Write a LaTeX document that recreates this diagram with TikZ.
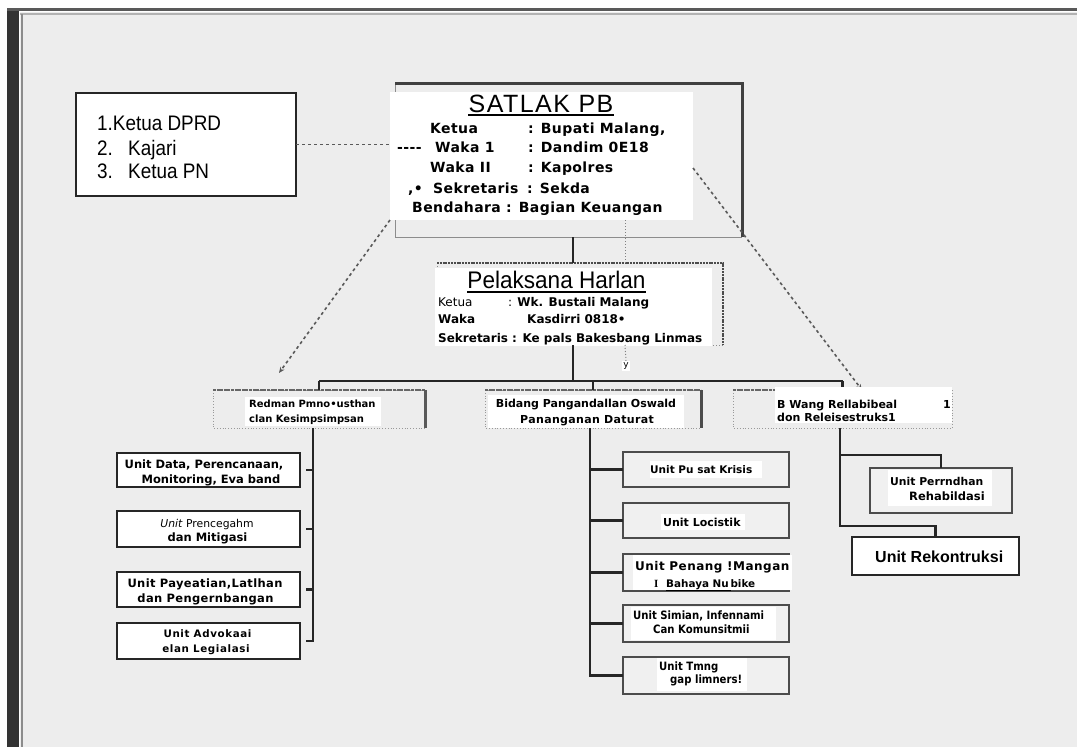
\documentclass[tikz,border=0pt]{standalone}
\usepackage{fontspec}
\setmainfont{DejaVu Sans}
\newfontfamily\fdv{DejaVu Sans}
\newfontfamily\fdvc[FakeStretch=0.88]{DejaVu Sans}
\newfontfamily\flan[FakeStretch=0.9]{Liberation Sans}
\newfontfamily\flap[FakeStretch=0.94]{Liberation Sans}
\newfontfamily\fla{Liberation Sans}
\newfontfamily\flser{Liberation Serif}
\usetikzlibrary{arrows.meta}
\newcommand\fsz[1]{\fontsize{#1}{#1}\selectfont}
\tikzset{
  txt/.style={inner sep=0pt, anchor=base west},
  txc/.style={inner sep=0pt, anchor=base},
  conn/.style={draw=black!85, line width=2.2},
  frame/.style={inner sep=0pt, outer sep=0pt},
  unitL/.style={draw=black!85, fill=white, line width=1.3, inner sep=0pt, outer sep=0pt},
  unitC/.style={draw=black!70, fill=black!6, line width=1.6, inner sep=0pt, outer sep=0pt},
  mem/.style={txt, font=\fdv\bfseries\fsz{14}\addfontfeature{LetterSpace=3}},
  ubold/.style={txc, font=\fdv\bfseries\fsz{11.5}},
  cbold/.style={txt, font=\fdvc\bfseries\fsz{11.5}},
  dsh/.style={draw=black!65, line width=1.6, dash pattern=on 3pt off 3pt},
}
\begin{document}
\begin{tikzpicture}[x=1pt,y=-1pt]
\useasboundingbox (0,0) rectangle (1077,747);
% page
\fill[white] (0,0) rectangle (1077,747);
\fill[black!7] (20,12) rectangle (1077,747);
\fill[black!80] (7,8) rectangle (19,747);
\draw[black!65, line width=3] (7,9.5) -- (1077,9.5);
\draw[black!30, line width=1.5] (20,14) -- (1077,14);
\draw[black!45, line width=1.2] (22,14) -- (22,747);

% ---------- left box
\node[unitL, line width=1.4, minimum width=220, minimum height=103] (lbox) at (186,144.5) {};
\node[txt, font=\flan\fsz{21}] (l1) at (97,130) {1.Ketua DPRD};
\node[txt, font=\flan\fsz{21}] (l2) at (97,155) {\makebox[31pt][l]{2.}Kajari};
\node[txt, font=\flan\fsz{21}] (l3) at (97,178) {\makebox[31pt][l]{3.}Ketua PN};

% ---------- SATLAK
\node[frame, minimum width=347, minimum height=154] (satf) at (568.5,160) {};
\draw[black!45, line width=1] (satf.north west) -- (satf.south west) -- (satf.south east);
\draw[black!75, line width=3] (satf.north west) -- (satf.north east) -- (satf.south east);
\node[frame, fill=white, minimum width=303, minimum height=128] (satw) at (541.5,156) {};
\node[txc, font=\fla\fsz{25}\addfontfeature{LetterSpace=6}] (satt) at (541,112) {SATLAK PB};
\draw[line width=1.2] ([yshift=-3pt]satt.base west) -- ([yshift=-3pt]satt.base east);
\node[mem] (s1a) at (430,133) {Ketua};
\node[mem] (s1b) at (528,133) {: Bupati Malang,};
\node[mem] (s2x) at (397,152) {----};
\node[mem] (s2a) at (435,152) {Waka 1};
\node[mem] (s2b) at (528,152) {: Dandim 0E18};
\node[mem] (s3a) at (430,172) {Waka II};
\node[mem] (s3b) at (528,172) {: Kapolres};
\node[mem] (s4x) at (408,193) {,•};
\node[mem] (s4a) at (433,193) {Sekretaris};
\node[mem] (s4b) at (527,193) {: Sekda};
\node[mem] (s5) at (412,212) {Bendahara : Bagian Keuangan};

% ---------- Pelaksana
\node[frame, minimum width=286, minimum height=82] (pelf) at (580,304) {};
\draw[black!45, line width=0.8, dotted] (pelf.north west) -- (pelf.south west) -- (pelf.south east);
\draw[black!70, line width=2.5, dash pattern=on 2pt off 0.8pt] (pelf.north west) -- (pelf.north east) -- (pelf.south east);
\node[frame, fill=white, minimum width=277, minimum height=78] (pelw) at (573.5,307) {};
\node[txc, font=\flap\fsz{24}] (pelt) at (556.5,288) {Pelaksana Harlan};
\draw[line width=1.2] ([yshift=-4pt]pelt.base west) -- ([yshift=-4pt]pelt.base east);
\node[txt, font=\fdv\fsz{12}] (p1a) at (438,306) {Ketua};
\node[txt, font=\fdv\fsz{12}] (p1b) at (508,306) {: \textbf{Wk. Bustali Malang}};
\node[txt, font=\fdv\bfseries\fsz{12}] (p2a) at (438,323) {Waka};
\node[txt, font=\fdv\bfseries\fsz{12}] (p2b) at (527,323) {Kasdirri 0818•};
\node[txt, font=\fdv\bfseries\fsz{12}] (p3) at (438,342) {Sekretaris : Ke pals Bakesbang Linmas};

% ---------- Bidang frames
\node[frame, minimum width=212, minimum height=38] (redf) at (319,409) {};
\node[frame, minimum width=216, minimum height=38] (bidf) at (593,409) {};
\node[frame, minimum width=219, minimum height=38] (bwf) at (842.5,409) {};
\foreach \f in {redf,bidf,bwf}{
  \draw[black!40, line width=0.8, dotted] (\f.north west) rectangle (\f.south east);
  \draw[black!60, line width=2.2, dash pattern=on 3pt off 0.6pt] (\f.north west) -- (\f.north east);
}
\draw[black!65, line width=3] (redf.north east) -- (redf.south east);
\draw[black!70, line width=3] (bidf.north east) -- (bidf.south east);

% ---------- connectors top
\coordinate (cx) at (573,0);
\coordinate (bary) at (0,381);
\coordinate (dvx) at (625,0);
\draw[conn] (satf.south -| cx) -- (pelf.north -| cx);
\draw[conn] (pelf.south -| cx) -- (bary -| cx);
\draw[conn] (redf.north |- bary) -- (bwf.north |- bary);
\draw[conn] (redf.north |- bary) -- (redf.north);
\draw[conn] (bidf.north |- bary) -- (bidf.north);
\draw[conn] (bwf.north |- bary) -- (bwf.north);
\draw[black!50, line width=1, dotted] (satw.south -| dvx) -- (pelf.north -| dvx);
\node[fill=white, inner sep=1.5pt, font=\fdv\fsz{9}] (yl) at (626,366) {y};
\draw[black!50, line width=1, dotted] (pelf.south -| dvx) -- (yl.north);

% dashed links
\coordinate (dl) at (279,373);
\coordinate (dr) at (862,390);
\draw[dsh] (lbox.east) -- (satw.west |- lbox.east);
\draw[dsh, -{Stealth[length=6pt,width=5pt]}] (satw.south west) -- (dl);
\draw[dsh, -{Stealth[length=6pt,width=5pt]}] ([yshift=-12pt]satw.east) -- (dr);

% ---------- Bidang texts
\fill[white] (245,397) rectangle (381,426);
\fill[white] (488,395) rectangle (684,428);
\fill[white] (775,387) rectangle (952,423);
\node[txt, font=\fdv\bfseries\fsz{10}] (r1) at (249,407) {Redman Pmno•usthan};
\node[txt, font=\fdv\bfseries\fsz{10}] (r2) at (249,422) {clan Kesimpsimpsan};
\node[txc, font=\fdv\bfseries\fsz{11}] (b1) at (586,407) {Bidang Pangandallan Oswald};
\node[txc, font=\fdv\bfseries\fsz{11}\addfontfeature{LetterSpace=3}] (b2) at (587,423) {Pananganan Daturat};
\node[txt, font=\fdv\bfseries\fsz{11}] (w1) at (777,408) {B Wang Rellabibeal};
\node[txt, font=\fdv\bfseries\fsz{11}] (w1b) at (943,408) {1};
\node[txt, font=\fdv\bfseries\fsz{11}] (w2) at (777,421) {don Releisestruks1};

% ---------- left column
\node[unitL, minimum width=183, minimum height=34] (ub1) at (208.5,470) {};
\node[unitL, minimum width=183, minimum height=36] (ub2) at (208.5,529) {};
\node[unitL, minimum width=183, minimum height=35] (ub3) at (208.5,589.5) {};
\node[unitL, minimum width=183, minimum height=36] (ub4) at (208.5,641) {};
\coordinate (lvx) at (313,0);
\draw[conn] (redf.south -| lvx) -- (ub4.east -| lvx) -- ([xshift=6pt]ub4.east);
\foreach \b in {ub1,ub2,ub3} \draw[conn] (\b.east -| lvx) -- ([xshift=6pt]\b.east);
\node[ubold] (u1a) at (204,468) {Unit Data, Perencanaan,};
\node[ubold] (u1b) at (211,483) {Monitoring, Eva band};
\node[txc, font=\fdv\fsz{10.8}] (u2a) at (207,527) {\textit{Unit} Prencegahm};
\node[ubold] (u2b) at (207.5,541) {dan Mitigasi};
\node[txc, font=\fdv\bfseries\fsz{11.5}\addfontfeature{LetterSpace=3}] (u3a) at (205,587) {Unit Payeatian,Latlhan};
\node[txc, font=\fdv\bfseries\fsz{11.5}\addfontfeature{LetterSpace=3}] (u3b) at (205.5,602) {dan Pengernbangan};
\node[txc, font=\fdv\bfseries\fsz{10.3}\addfontfeature{LetterSpace=6}] (u4a) at (207.5,637) {Unit Advokaai};
\node[txc, font=\fdv\bfseries\fsz{10.3}\addfontfeature{LetterSpace=6}] (u4b) at (206,652) {elan Legialasi};

% ---------- center column
\node[unitC, minimum width=166, minimum height=35] (cb1) at (706,469.5) {};
\node[unitC, minimum width=166, minimum height=35] (cb2) at (706,520.5) {};
\node[unitC, minimum width=166, minimum height=37] (cb3) at (706,572.5) {};
\node[unitC, minimum width=166, minimum height=37] (cb4) at (706,623.5) {};
\node[unitC, minimum width=166, minimum height=37] (cb5) at (706,675.5) {};
\coordinate (cvx) at (590,0);
\draw[conn] (bidf.south -| cvx) -- (cb5.west -| cvx) -- (cb5.west);
\foreach \b in {cb1,cb2,cb3,cb4} \draw[conn] (\b.west -| cvx) -- (\b.west);
\fill[white] (650,461) rectangle (762,478);
\fill[white] (661,514) rectangle (745,530);
\fill[white] (633,555) rectangle (792,590);
\fill[white] (631,607) rectangle (776,640);
\fill[white] (657,658) rectangle (747,691);
\node[txt, font=\fdv\bfseries\fsz{10.5}] (c1) at (650,473) {Unit Pu sat Krisis};
\node[txt, font=\fdv\bfseries\fsz{11}] (c2) at (663,526) {Unit Locistik};
\node[txt, font=\fdv\bfseries\fsz{12}\addfontfeature{LetterSpace=4}] (c3a) at (635,570) {Unit Penang !Mangan};
\node[txt, font=\flser\bfseries\fsz{11}] (c3i) at (654,587) {I};
\node[txt, font=\fdv\bfseries\fsz{10.4}] (c3b) at (666,587) {\underline{Bahaya Nu\,}bike};
\node[cbold] (c4a) at (633,619) {Unit Simian, Infennami};
\node[cbold] (c4b) at (653,633) {Can Komunsitmii};
\node[cbold] (c5a) at (659,670) {Unit Tmng};
\node[cbold] (c5b) at (670,683) {gap limners!};

% ---------- right column
\node[unitC, minimum width=142, minimum height=45] (rb1) at (941,490.5) {};
\node[unitL, line width=2, minimum width=167, minimum height=38] (rb2) at (935.5,556) {};
\coordinate (rv1) at (840,455);
\coordinate (rv2) at (840,526);
\draw[conn] (bwf.south -| rv1) -- (rv2) -| (rb2.north);
\draw[conn] (rv1) -| (rb1.north);
\fill[white] (888,470) rectangle (992,506);
\node[txt, font=\fdv\bfseries\fsz{10.8}] (rt1a) at (890,485) {Unit Perrndhan};
\node[txt, font=\fdv\bfseries\fsz{11.5}] (rt1b) at (909,500) {Rehabildasi};
\node[txt, font=\fla\bfseries\fsz{16}] (rt2) at (875,562) {Unit Rekontruksi};
\end{tikzpicture}
\end{document}
